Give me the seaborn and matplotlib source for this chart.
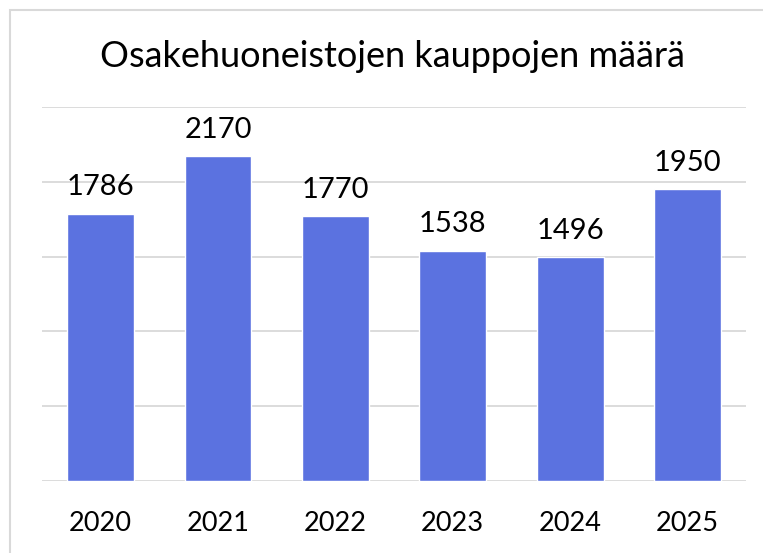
import matplotlib
matplotlib.use("Agg")
import matplotlib.pyplot as plt
import seaborn as sns
import pandas as pd

years = ["2020", "2021", "2022", "2023", "2024", "2025"]
kaupat = [1786, 2170, 1770, 1538, 1496, 1950]

df = pd.DataFrame({"Vuosi": years, "Kaupat": kaupat})

sns.set_style("white")
plt.rcParams['font.family'] = ['Lato', 'DejaVu Sans']
plt.rcParams['text.color'] = 'black'

fig = plt.figure(figsize=(7.63, 5.53), dpi=100)
ax = fig.add_axes([0.055, 0.13, 0.923, 0.6765])

sns.barplot(data=df, x="Vuosi", y="Kaupat", color="#5B72E0", saturation=1,
            width=0.57, ax=ax)

ax.set_ylim(0, 2500)
ax.set_yticks([0, 500, 1000, 1500, 2000, 2500])
ax.yaxis.grid(True, color="#D9D9D9", linewidth=1.3)
ax.set_axisbelow(True)
ax.tick_params(axis="y", left=False, labelleft=False)
ax.tick_params(axis="x", bottom=False, labelsize=19.5, pad=18, colors="black")
ax.set_xlabel("")
ax.set_ylabel("")
for s in ax.spines.values():
    s.set_visible(False)

for i, v in enumerate(kaupat):
    ax.text(i, v + 90, str(v), ha="center", va="bottom", fontsize=21,
            color="black")

fig.text(0.515, 0.897, "Osakehuoneistojen kauppojen määrä", ha="center",
         va="center", fontsize=26, color="black")

# chart frame, cut off at right and bottom
frame = plt.Rectangle((10 / 763, -0.1), 1.2, 1 - 10 / 553 + 0.1,
                      transform=fig.transFigure, fill=False,
                      edgecolor="#D9D9D9", linewidth=1.5)
fig.patches.append(frame)

fig.savefig("out.png", dpi=100)
